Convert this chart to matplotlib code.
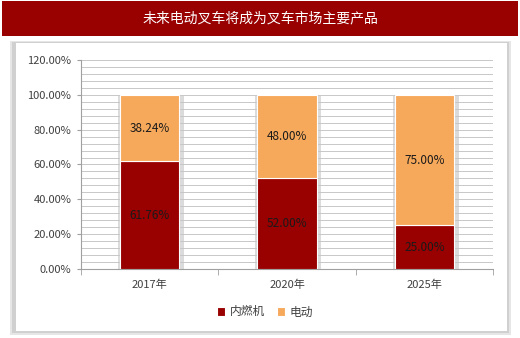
import matplotlib
matplotlib.use("Agg")
import matplotlib.pyplot as plt
from matplotlib.patches import Rectangle
import numpy as np

plt.rcParams['font.family'] = ['Noto Sans CJK SC', 'DejaVu Sans']

title = "未来电动叉车将成为叉车市场主要产品"
categories = ["2017年", "2020年", "2025年"]
series_names = ["内燃机", "电动"]
ice = [61.76, 52.00, 25.00]
electric = [38.24, 48.00, 75.00]
yticks = [0, 20, 40, 60, 80, 100, 120]

W, H = 520, 338
fig = plt.figure(figsize=(W/100, H/100), dpi=100)
fig.patch.set_facecolor('white')

# title bar
fig.patches.append(Rectangle((2/W, 1 - 36/H), 516/W, 35/H, transform=fig.transFigure,
                             facecolor='#990000', edgecolor='none', zorder=-2))
fig.text(0.5, 1 - 18/H, title, color='white', fontsize=10, ha='center', va='center')

# panel shadow and panel
fig.patches.append(Rectangle((10/W, 1 - 335/H), 501/W, 294/H, transform=fig.transFigure,
                             facecolor='#e6e6e6', edgecolor='none', zorder=-3))
fig.patches.append(Rectangle((12/W, 1 - 333/H), 497/W, 291/H, transform=fig.transFigure,
                             facecolor='#d0d0d0', edgecolor='none', zorder=-2))
fig.patches.append(Rectangle((16/W, 1 - 331/H), 491/W, 288/H, transform=fig.transFigure,
                             facecolor='white', edgecolor='none', zorder=-1))

ax = fig.add_axes([81/W, 1 - 269/H, (493-81)/W, (269-60)/H])
ax.set_zorder(1)
ax.set_facecolor('none')
x = np.arange(len(categories))
bw = 0.43
# soft bar shadows
totals = [a + b for a, b in zip(ice, electric)]
ax.bar(x + 0.01, totals, bw + 0.05, bottom=-0.6, color='#c4c4c4', zorder=2, alpha=0.6)
b1 = ax.bar(x, ice, bw, color='#990000', edgecolor='white', linewidth=0.8, zorder=3, label=series_names[0])
b2 = ax.bar(x, electric, bw, bottom=ice, color='#f7a95b', edgecolor='white', linewidth=0.8, zorder=3, label=series_names[1])

for i in range(len(categories)):
    ax.text(x[i], ice[i] / 2, f"{ice[i]:.2f}%", ha='center', va='center', fontsize=8.5, color='#1a1a1a', zorder=4)
    ax.text(x[i], ice[i] + electric[i] / 2, f"{electric[i]:.2f}%", ha='center', va='center', fontsize=8.5, color='#1a1a1a', zorder=4)

ax.set_xlim(-0.5, 2.5)
ax.set_ylim(0, 120)
ax.set_yticks(yticks)
ax.set_yticklabels([f"{v:.2f}%" for v in yticks], fontsize=8, color='#404040')
ax.set_yticks(np.arange(0, 121, 4), minor=True)
ax.tick_params(axis='y', which='minor', length=0)
ax.tick_params(axis='y', which='major', length=3, color='#a0a0a0', pad=4)
ax.grid(axis='y', which='both', color='#c8c8c8', linewidth=0.7, zorder=0)
ax.set_axisbelow(True)
ax.set_xticks(x)
ax.set_xticklabels(categories, fontsize=8, color='#404040')
ax.set_xticks([-0.5, 0.5, 1.5, 2.5], minor=True)
ax.tick_params(axis='x', which='major', length=0, pad=8)
ax.tick_params(axis='x', which='minor', length=4, color='#a0a0a0')
for s in ['top', 'right']:
    ax.spines[s].set_visible(False)
ax.spines['left'].set_color('#a0a0a0')
ax.spines['bottom'].set_color('#a0a0a0')

fig.legend(handles=[b1, b2], labels=series_names, loc='center', bbox_to_anchor=(265/W, 1 - 312/H),
           ncol=2, frameon=False, fontsize=8.5, handlelength=0.7, handleheight=0.7,
           handletextpad=0.4, columnspacing=1.0, labelcolor='#404040')

fig.savefig("out.png", dpi=100)
